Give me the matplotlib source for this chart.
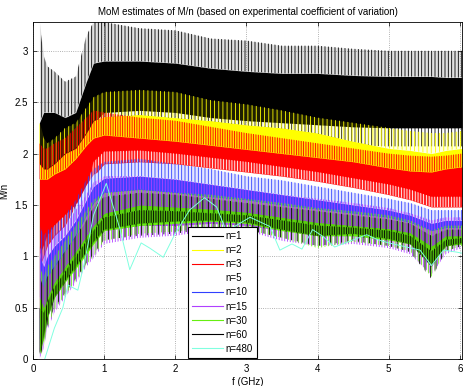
import matplotlib.pyplot as plt
from matplotlib.lines import Line2D

# frequency grid where band edges were read (GHz)
freq = [0.09, 0.15, 0.2, 0.3, 0.45, 0.6, 0.75, 0.85, 1.0, 1.5, 2.0, 2.5, 3.0,
        3.5, 4.0, 4.5, 5.0, 5.3, 5.6, 5.8, 6.03]

labels = ['n=1', 'n=2', 'n=3', 'n=5', 'n=10', 'n=15', 'n=30', 'n=60', 'n=480']
colors = ['black', '#ffff00', '#ff0000', 'white', '#3040ff', '#b040ff',
          '#66ee11', 'black', '#80ffe0']

# n=1
n1_top = [3.28, 2.95, 2.85, 2.8, 2.7, 2.75, 3.15, 3.28, 3.28, 3.22, 3.2, 3.12, 3.1, 3.05, 3.05, 3.02, 3.0, 3.0, 3.0, 3.0, 3.0]
n1_hi = [2.3, 2.4, 2.4, 2.4, 2.35, 2.4, 2.7, 2.88, 2.9, 2.9, 2.88, 2.83, 2.8, 2.78, 2.78, 2.76, 2.75, 2.75, 2.75, 2.74, 2.74]
n1_lo = [0.6, 1.0, 1.2, 1.4, 1.6, 1.8, 2.1, 2.3, 2.4, 2.42, 2.4, 2.35, 2.32, 2.3, 2.28, 2.26, 2.25, 2.25, 2.25, 2.25, 2.25]
n1_bot = [0.0, 0.5, 0.8, 1.0, 1.3, 1.5, 1.9, 2.1, 2.2, 2.25, 2.22, 2.18, 2.15, 2.12, 2.1, 2.08, 2.07, 2.07, 2.07, 2.07, 2.07]
# n=2
n2_top = [2.3, 2.15, 2.1, 2.15, 2.25, 2.3, 2.45, 2.55, 2.6, 2.62, 2.6, 2.52, 2.48, 2.42, 2.35, 2.3, 2.25, 2.22, 2.2, 2.2, 2.22]
n2_hi = [1.9, 1.85, 1.85, 1.9, 2.0, 2.05, 2.2, 2.32, 2.36, 2.38, 2.35, 2.32, 2.28, 2.25, 2.2, 2.12, 2.05, 2.03, 2.0, 2.03, 2.05]
n2_lo = [0.5, 0.8, 1.0, 1.2, 1.4, 1.6, 1.8, 1.9, 1.95, 1.95, 1.9, 1.85, 1.8, 1.75, 1.7, 1.65, 1.6, 1.55, 1.55, 1.55, 1.55]
# n=3
n3_top = [2.1, 2.05, 2.05, 2.1, 2.15, 2.25, 2.35, 2.42, 2.4, 2.35, 2.32, 2.26, 2.2, 2.15, 2.1, 2.05, 2.0, 1.98, 1.97, 1.98, 2.0]
n3_hi = [1.75, 1.75, 1.75, 1.8, 1.85, 1.95, 2.08, 2.15, 2.18, 2.15, 2.12, 2.08, 2.04, 2.0, 1.96, 1.92, 1.86, 1.83, 1.82, 1.85, 1.87]
n3_lo = [0.4, 0.7, 0.9, 1.1, 1.3, 1.5, 1.7, 1.8, 1.85, 1.85, 1.82, 1.78, 1.75, 1.7, 1.65, 1.6, 1.52, 1.48, 1.42, 1.42, 1.42]
# n=5
n5_top = [1.0, 1.1, 1.2, 1.3, 1.4, 1.5, 1.65, 1.92, 2.02, 2.03, 2.0, 1.96, 1.92, 1.87, 1.82, 1.76, 1.7, 1.65, 1.58, 1.58, 1.58]
n5_hi = [0.9, 1.0, 1.1, 1.2, 1.3, 1.4, 1.55, 1.78, 1.9, 1.92, 1.9, 1.86, 1.82, 1.78, 1.73, 1.67, 1.6, 1.55, 1.48, 1.48, 1.48]
n5_lo = [0.3, 0.6, 0.8, 1.0, 1.2, 1.3, 1.45, 1.55, 1.65, 1.7, 1.68, 1.62, 1.58, 1.53, 1.48, 1.43, 1.38, 1.33, 1.25, 1.28, 1.3]
# n=10
n10_top = [1.3, 1.2, 1.25, 1.3, 1.4, 1.55, 1.75, 1.85, 1.92, 1.95, 1.9, 1.85, 1.78, 1.74, 1.68, 1.62, 1.56, 1.52, 1.45, 1.45, 1.45]
n10_hi = [1.0, 0.9, 1.0, 1.1, 1.2, 1.35, 1.55, 1.68, 1.76, 1.78, 1.75, 1.7, 1.65, 1.6, 1.55, 1.5, 1.45, 1.4, 1.32, 1.35, 1.35]
n10_lo = [0.2, 0.4, 0.6, 0.8, 1.0, 1.1, 1.2, 1.3, 1.4, 1.45, 1.42, 1.4, 1.38, 1.33, 1.28, 1.25, 1.22, 1.18, 1.05, 1.15, 1.18]
# n=15
n15_top = [1.1, 1.0, 1.1, 1.2, 1.3, 1.45, 1.6, 1.72, 1.78, 1.78, 1.75, 1.7, 1.65, 1.6, 1.56, 1.52, 1.47, 1.42, 1.35, 1.38, 1.38]
n15_hi = [0.8, 0.7, 0.8, 0.9, 1.05, 1.2, 1.4, 1.52, 1.62, 1.65, 1.62, 1.58, 1.55, 1.5, 1.46, 1.42, 1.38, 1.33, 1.25, 1.28, 1.28]
n15_lo = [0.1, 0.2, 0.4, 0.6, 0.75, 0.9, 1.05, 1.15, 1.25, 1.3, 1.3, 1.32, 1.3, 1.25, 1.2, 1.2, 1.16, 1.12, 0.95, 1.1, 1.12]
n15_bot = [0.0, 0.1, 0.28, 0.45, 0.6, 0.74, 0.9, 0.98, 1.12, 1.18, 1.2, 1.25, 1.25, 1.15, 1.1, 1.12, 1.08, 1.02, 0.82, 1.02, 1.08]
# n=30
n30_top = [0.9, 0.8, 0.9, 1.0, 1.15, 1.3, 1.45, 1.55, 1.62, 1.65, 1.62, 1.6, 1.56, 1.52, 1.47, 1.44, 1.4, 1.35, 1.25, 1.3, 1.3]
n30_hi = [0.6, 0.5, 0.6, 0.75, 0.9, 1.05, 1.2, 1.3, 1.42, 1.5, 1.48, 1.46, 1.43, 1.38, 1.33, 1.3, 1.27, 1.23, 1.1, 1.2, 1.2]
n30_lo = [0.05, 0.2, 0.4, 0.6, 0.75, 0.88, 1.02, 1.12, 1.25, 1.3, 1.32, 1.34, 1.32, 1.25, 1.2, 1.2, 1.16, 1.12, 0.92, 1.1, 1.12]
n30_bot = [0.0, 0.12, 0.3, 0.48, 0.62, 0.76, 0.92, 1.0, 1.15, 1.22, 1.24, 1.28, 1.26, 1.18, 1.08, 1.14, 1.1, 1.05, 0.8, 1.05, 1.1]
# n=60
n60_top = [0.8, 0.7, 0.8, 0.9, 1.05, 1.2, 1.35, 1.48, 1.58, 1.62, 1.6, 1.56, 1.52, 1.48, 1.44, 1.4, 1.36, 1.32, 1.2, 1.26, 1.26]
n60_hi = [0.5, 0.45, 0.55, 0.7, 0.85, 1.0, 1.15, 1.25, 1.38, 1.45, 1.44, 1.42, 1.4, 1.35, 1.3, 1.28, 1.25, 1.2, 1.05, 1.16, 1.18]
n60_lo = [0.05, 0.22, 0.4, 0.6, 0.76, 0.9, 1.04, 1.14, 1.26, 1.32, 1.34, 1.35, 1.33, 1.26, 1.2, 1.22, 1.17, 1.12, 0.9, 1.1, 1.13]
n60_bot = [0.0, 0.15, 0.32, 0.5, 0.64, 0.78, 0.93, 1.02, 1.16, 1.2, 1.22, 1.27, 1.26, 1.18, 1.1, 1.15, 1.1, 1.04, 0.78, 1.05, 1.1]

# n=480 (single curve)
f480 = [0.165, 0.3, 0.42, 0.49, 0.63, 0.73, 0.85, 1.03, 1.22, 1.36, 1.52, 1.64, 1.83, 1.99, 2.2, 2.41,
        2.58, 2.72, 2.81, 3.05, 3.33, 3.47, 3.64, 3.78, 3.93, 4.08, 4.24, 4.5, 4.69, 4.85, 5.0, 5.25,
        5.44, 5.6, 5.68, 5.77, 5.96, 6.03]
m480 = [0.0, 0.3, 0.5, 0.72, 0.67, 0.96, 1.4, 1.71, 1.27, 0.87, 1.13, 1.08, 0.99, 1.21, 1.45, 1.57,
        1.48, 1.24, 1.28, 1.38, 1.29, 1.06, 1.12, 1.07, 1.26, 1.19, 1.09, 1.16, 1.21, 1.16, 1.13, 1.09,
        1.06, 0.91, 0.98, 1.06, 1.04, 1.03]

bands = [
    (n1_top, n1_hi, n1_lo, n1_bot),
    (n2_top, n2_hi, n2_lo, None),
    (n3_top, n3_hi, n3_lo, None),
    (n5_top, n5_hi, n5_lo, None),
    (n10_top, n10_hi, n10_lo, None),
    (n15_top, n15_hi, n15_lo, n15_bot),
    (n30_top, n30_hi, n30_lo, n30_bot),
    (n60_top, n60_hi, n60_lo, n60_bot),
]
# stripe density of the noisy fringes (differs per trace so they interleave)
fringe_hatch = ['|||||', '||||', '|||||||', '||||||', '|||||', '||||||', '|||||', '|||']
# n=60 is a thin trace over the n=30 band: its core is striped too
core_hatch = [None, None, None, None, None, None, None, '|||||||']

plt.rcParams['font.family'] = ['Liberation Sans', 'DejaVu Sans']
plt.rcParams['hatch.linewidth'] = 0.6
fig = plt.figure(figsize=(4.69, 3.86), dpi=100)
ax = fig.add_axes([0.0704, 0.0699, 0.9147, 0.873])

for (top, hi, lo, bot), c, fh, ch in zip(bands, colors, fringe_hatch, core_hatch):
    ax.fill_between(freq, hi, top, color=c, alpha=0.12, lw=0)
    ax.fill_between(freq, hi, top, facecolor='none', edgecolor=c, hatch=fh, lw=0)
    if bot is not None:
        ax.fill_between(freq, bot, lo, facecolor='none', edgecolor=c, hatch=fh, lw=0)
    if ch:
        ax.fill_between(freq, lo, hi, color=c, alpha=0.25, lw=0)
        ax.fill_between(freq, lo, hi, facecolor='none', edgecolor=c, hatch=ch, lw=0)
    else:
        ax.fill_between(freq, lo, hi, color=c, lw=0)

ax.plot(f480, m480, color=colors[8], lw=0.7)

ax.set_xlim(0, 6.03)
ax.set_ylim(0, 3.28)
ax.set_yticks([0, 0.5, 1, 1.5, 2, 2.5, 3])
ax.set_yticklabels(['0', '0.5', '1', '1.5', '2', '2.5', '3'])
ax.set_axisbelow(True)
ax.grid(True, linestyle=':', color='#999999', lw=0.6)
ax.tick_params(direction='in', top=True, right=True, labelsize=7, length=3, width=0.5)
for s in ax.spines.values():
    s.set_linewidth(0.6)
ax.set_title('MoM estimates of M/n (based on experimental coefficient of variation)', fontsize=7, pad=5)
ax.set_xlabel('f (GHz)', fontsize=7, labelpad=2)
ax.set_ylabel('M/n', fontsize=7, labelpad=4)

handles = [Line2D([], [], color=c, lw=0.8) for c in colors]
leg = ax.legend(handles, labels, loc='lower left', bbox_to_anchor=(0.361, 0.004), fontsize=7,
                handlelength=3.2, labelspacing=0.42, borderpad=0.4, handletextpad=0.3,
                fancybox=False, framealpha=1, edgecolor='black', borderaxespad=0)
leg.get_frame().set_linewidth(0.8)

plt.savefig('out.png', dpi=100)
plt.close()
